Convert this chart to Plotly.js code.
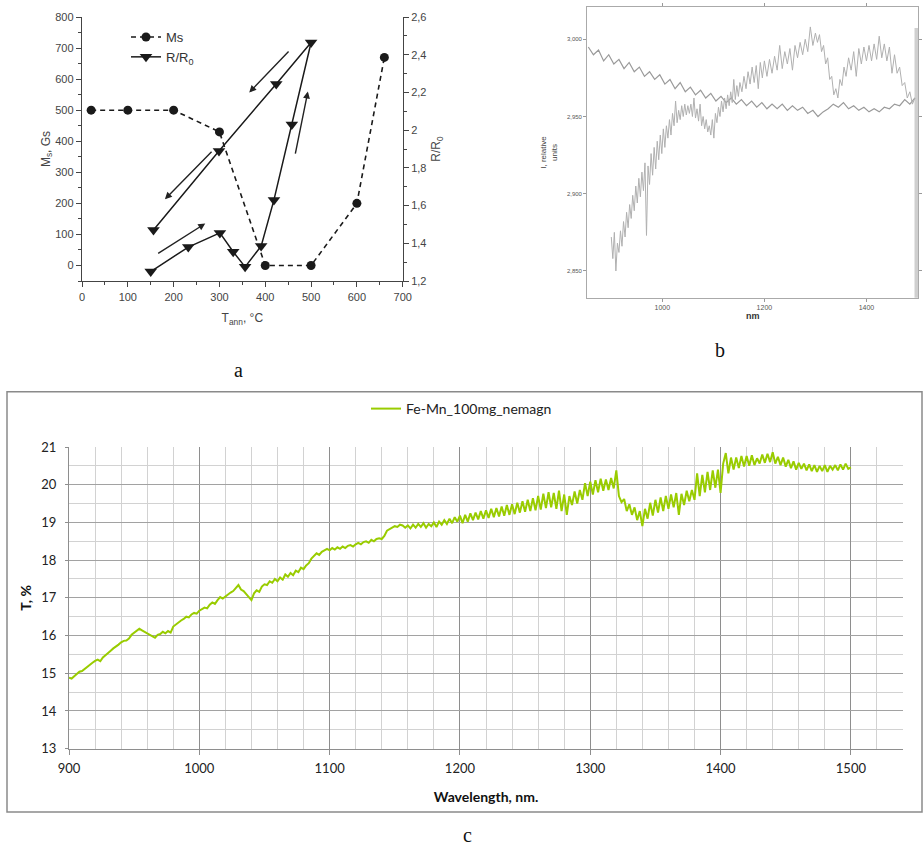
<!DOCTYPE html>
<html>
<head>
<meta charset="utf-8">
<script src="https://cdn.plot.ly/plotly-3.0.1.min.js"></script>
<style>
html,body{margin:0;padding:0;background:#fff;}
#chart{width:923px;height:861px;}
</style>
</head>
<body>
<div id="chart"></div>
<script>
// ---------- Panel a : Ms and R/R0 vs annealing temperature ----------
const msT   = [20, 100, 200, 300, 400, 500, 600, 660];
const msVal = [500, 500, 500, 430, 0, 0, 200, 670];

const rT    = [150, 232, 301, 330, 356, 391, 419, 458, 500, 424, 299, 156];
const rVal  = [1.25, 1.38, 1.455, 1.355, 1.275, 1.385, 1.63, 2.03, 2.465, 2.245, 1.89, 1.47];

// ---------- Panel b : relative intensity spectra ----------
const bX1 = [855,865,875,885,895,905,915,925,935,945,955,965,975,985,995,1005,1015,1025,1035,1045,1055,1065,1075,1085,1095,1105,1115,1125,1135,1145,1155,1165,1175,1185,1195,1205,1215,1225,1235,1245,1255,1265,1275,1285,1295,1305,1315,1325,1335,1345,1355,1365,1375,1385,1395,1405,1415,1425,1435,1445,1455,1465,1475,1485,1495];
const bY1 = [2.995,2.990,2.993,2.986,2.990,2.984,2.987,2.981,2.985,2.979,2.982,2.976,2.979,2.974,2.977,2.971,2.974,2.968,2.972,2.966,2.969,2.964,2.967,2.962,2.965,2.960,2.963,2.959,2.962,2.958,2.961,2.957,2.960,2.956,2.959,2.955,2.958,2.955,2.958,2.954,2.957,2.954,2.956,2.952,2.954,2.950,2.953,2.955,2.958,2.956,2.959,2.955,2.957,2.954,2.956,2.953,2.955,2.953,2.956,2.955,2.958,2.957,2.961,2.958,2.962];

const bX2 = [900,903,906,909,912,915,918,921,924,927,930,933,936,939,942,945,948,951,954,957,960,963,966,969,972,975,978,981,984,987,990,993,996,999,1002,1005,1008,1011,1014,1017,1020,1023,1026,1029,1032,1035,1038,1041,1044,1047,1050,1053,1056,1059,1062,1065,1068,1071,1074,1077,1080,1083,1086,1089,1092,1095,1098,1101,1104,1107,1110,1113,1116,1119,1122,1125,1128,1131,1134,1137,1140,1143,1146,1149,1152,1156,1160,1164,1168,1172,1176,1180,1184,1188,1192,1196,1200,1205,1210,1215,1220,1225,1230,1235,1240,1245,1250,1255,1260,1265,1270,1275,1280,1285,1290,1295,1300,1304,1308,1312,1316,1320,1324,1328,1332,1336,1340,1344,1348,1352,1356,1360,1365,1370,1375,1380,1385,1390,1395,1400,1405,1410,1415,1420,1425,1430,1435,1440,1445,1450,1455,1460,1465,1470,1475,1480,1485,1490,1495];
const bY2 = [2.872,2.858,2.875,2.850,2.868,2.862,2.876,2.866,2.882,2.872,2.888,2.878,2.893,2.884,2.899,2.889,2.905,2.894,2.910,2.898,2.914,2.902,2.920,2.873,2.918,2.906,2.926,2.912,2.930,2.916,2.934,2.922,2.938,2.926,2.942,2.930,2.944,2.936,2.948,2.938,2.952,2.944,2.960,2.946,2.954,2.948,2.957,2.950,2.958,2.951,2.957,2.952,2.958,2.950,2.962,2.949,2.955,2.947,2.958,2.944,2.950,2.942,2.948,2.940,2.944,2.938,2.948,2.936,2.952,2.946,2.956,2.950,2.960,2.953,2.962,2.955,2.964,2.957,2.966,2.959,2.974,2.961,2.970,2.963,2.972,2.966,2.976,2.968,2.979,2.971,2.982,2.972,2.983,2.968,2.985,2.975,2.986,2.976,2.987,2.978,2.989,2.980,2.996,2.981,2.992,2.984,2.994,2.980,2.996,2.988,2.998,2.990,3.000,2.992,3.008,2.996,3.004,2.998,3.003,2.992,2.996,2.984,2.988,2.974,2.976,2.964,2.968,2.962,2.974,2.970,2.982,2.976,2.988,2.980,2.992,2.976,2.994,2.984,2.995,2.986,2.996,2.986,2.997,2.987,3.002,2.988,2.997,2.986,2.995,2.978,2.990,2.978,2.982,2.970,2.972,2.962,2.966,2.958,2.962];
const bXTicks = [1000, 1200, 1400];
const bYTicks = [2.85, 2.90, 2.95, 3.00];
const bYTickText = ['2,850', '2,900', '2,950', '3,000'];

// ---------- Panel c : transmission spectrum (wavelength 900..1500 nm, every 2 nm) ----------
const cStart = 900;
const cStep = 2;
const cT = [
14.88,14.86,14.92,14.98,15.04, 15.06,15.12,15.18,15.22,15.28, 15.33,15.36,15.32,15.42,15.48, 15.55,15.60,15.66,15.70,15.76,
15.82,15.86,15.87,15.92,16.02, 16.08,16.14,16.18,16.14,16.10, 16.06,16.04,15.98,15.94,16.02, 16.04,16.10,16.06,16.12,16.08,
16.24,16.30,16.34,16.40,16.44, 16.50,16.48,16.56,16.60,16.58, 16.66,16.70,16.74,16.72,16.82, 16.88,16.84,16.94,17.02,16.98,
17.04,17.08,17.14,17.18,17.26, 17.34,17.22,17.18,17.10,17.02, 16.94,17.12,17.20,17.16,17.30, 17.36,17.34,17.44,17.40,17.50,
17.44,17.54,17.48,17.62,17.56, 17.66,17.60,17.72,17.68,17.80, 17.76,17.86,17.92,18.04,18.12, 18.18,18.14,18.22,18.26,18.30,
18.26,18.32,18.28,18.34,18.30, 18.36,18.32,18.38,18.40,18.36, 18.42,18.46,18.42,18.48,18.50, 18.46,18.54,18.50,18.56,18.58,
18.56,18.64,18.78,18.82,18.86, 18.90,18.88,18.94,18.92,18.86, 18.92,18.84,18.94,18.86,18.96, 18.88,18.98,18.86,18.96,18.90,
19.00,18.88,19.02,18.94,19.06, 18.96,19.10,18.98,19.14,19.02, 19.18,18.98,19.20,19.02,19.24, 19.06,19.26,19.08,19.30,19.10,
19.32,19.12,19.36,19.14,19.38, 19.16,19.42,19.18,19.46,19.20, 19.48,19.22,19.52,19.26,19.56, 19.28,19.60,19.30,19.64,19.32,
19.70,19.34,19.76,19.38,19.80, 19.40,19.78,19.36,19.84,19.30, 19.74,19.20,19.70,19.46,19.82, 19.50,19.86,19.60,20.04,19.70,
20.08,19.74,20.12,19.80,20.16, 19.84,20.14,19.86,20.18,19.90, 20.38,19.70,19.54,19.62,19.30, 19.48,19.20,19.40,19.06,19.30,
18.90,19.36,19.10,19.52,19.18, 19.60,19.26,19.66,19.30,19.70, 19.36,19.74,19.40,19.78,19.20, 19.76,19.46,19.84,19.56,19.86,
19.60,20.30,19.70,20.26,19.80, 20.34,19.86,20.38,19.92,20.40, 19.78,20.56,20.84,20.30,20.72, 20.40,20.72,20.44,20.76,20.48,
20.76,20.50,20.78,20.52,20.70, 20.56,20.80,20.58,20.82,20.60, 20.86,20.56,20.74,20.52,20.72, 20.48,20.66,20.44,20.62,20.40,
20.58,20.42,20.56,20.38,20.54, 20.36,20.52,20.34,20.50,20.36, 20.52,20.34,20.50,20.40,20.52, 20.38,20.54,20.40,20.56,20.42,
20.46];

const W = 923, H = 861;
const px = v => v / W;
const py = v => 1 - v / H;

const fA = 'Liberation Sans, Arial, sans-serif';
const fC = 'Lato, Open Sans, sans-serif';

const traces = [
  { x: msT, y: msVal, xaxis: 'x', yaxis: 'y', name: 'Ms', mode: 'lines+markers',
    line: { color: '#1a1a1a', width: 1.6, dash: '5px,4px' },
    marker: { symbol: 'circle', size: 9, color: '#1a1a1a' }, legend: 'legend' },
  { x: rT, y: rVal, xaxis: 'x', yaxis: 'y2', name: 'R/R<sub>0</sub>', mode: 'lines+markers',
    line: { color: '#1a1a1a', width: 1.5 },
    marker: { symbol: 'triangle-down', size: 11, color: '#1a1a1a' }, legend: 'legend' },
  { x: bX1, y: bY1, xaxis: 'x2', yaxis: 'y3', mode: 'lines', showlegend: false,
    line: { color: '#9a9a9a', width: 1.2 } },
  { x: bX2, y: bY2, xaxis: 'x2', yaxis: 'y3', mode: 'lines', showlegend: false,
    line: { color: '#b0b0b0', width: 1 } },
  { y: cT, x0: cStart, dx: cStep, xaxis: 'x3', yaxis: 'y4', mode: 'lines', name: 'Fe-Mn_100mg_nemagn',
    line: { color: '#99cc00', width: 2 }, legend: 'legend2' }
];

const axA = {
  showline: true, linecolor: '#444', linewidth: 1.3, ticks: 'outside', ticklen: 5, tickcolor: '#444',
  showgrid: false, zeroline: false, tickfont: { family: fA, size: 11, color: '#444' }
};

// arrows along the R/R0 path (tail -> head), in data coords of panel a
const arrows = [
  { tx: 454, ty: 694, hx: 365, hy: 557 },
  { tx: 286, ty: 371, hx: 181, hy: 213 },
  { tx: 163, ty: 36,  hx: 269, hy: 135 },
  { tx: 465, ty: 355, hx: 493, hy: 560 }
];

const annotations = arrows.map(a => ({
  xref: 'x', yref: 'y', axref: 'x', ayref: 'y', x: a.hx, y: a.hy, ax: a.tx, ay: a.ty,
  showarrow: true, arrowhead: 2, arrowsize: 1, arrowwidth: 1.4, arrowcolor: '#222', text: ''
}));
annotations.push(
  { xref: 'paper', yref: 'paper', x: px(232), y: py(370), text: 'a', showarrow: false,
    font: { family: 'Liberation Serif, Times New Roman, serif', size: 20, color: '#111' } },
  { xref: 'paper', yref: 'paper', x: px(727), y: py(350), text: 'b', showarrow: false,
    font: { family: 'Liberation Serif, Times New Roman, serif', size: 20, color: '#111' } },
  { xref: 'paper', yref: 'paper', x: px(467), y: py(848), text: 'c', showarrow: false,
    font: { family: 'Liberation Serif, Times New Roman, serif', size: 20, color: '#111' } }
);

const layout = {
  width: W, height: H,
  margin: { l: 0, r: 0, t: 0, b: 0 },
  paper_bgcolor: '#fff', plot_bgcolor: 'rgba(0,0,0,0)',
  separators: ',.',
  showlegend: true,
  legend: {
    x: px(126), y: py(22), xanchor: 'left', yanchor: 'top', orientation: 'v',
    bgcolor: 'rgba(0,0,0,0)', font: { family: fA, size: 13, color: '#333' }, tracegroupgap: 0
  },
  legend2: {
    x: 0.5, y: py(409), xanchor: 'center', yanchor: 'middle', orientation: 'h',
    bgcolor: 'rgba(0,0,0,0)', font: { family: fC, size: 14, color: '#222' }
  },
  // panel a
  xaxis: Object.assign({}, axA, {
    domain: [px(82), px(402.7)], anchor: 'y', range: [0, 700], dtick: 100,
    minor: { ticks: 'outside', ticklen: 3, dtick: 50, tickcolor: '#444' },
    title: { text: 'T<sub>ann</sub>, °C', font: { family: fA, size: 12, color: '#444' }, standoff: 12 }
  }),
  yaxis: Object.assign({}, axA, {
    domain: [py(281), py(17)], anchor: 'x', range: [-50, 800], dtick: 100,
    minor: { ticks: 'outside', ticklen: 3, dtick: 50, tickcolor: '#444' },
    title: { text: 'M<sub>s</sub>, Gs', font: { family: fA, size: 12, color: '#444' }, standoff: 2 }
  }),
  yaxis2: Object.assign({}, axA, {
    overlaying: 'y', side: 'right', anchor: 'x', range: [1.2, 2.6], tick0: 1.2, dtick: 0.2,
    minor: { ticks: 'outside', ticklen: 3, dtick: 0.1, tickcolor: '#444' },
    title: { text: 'R/R<sub>0</sub>', font: { family: fA, size: 12, color: '#444' }, standoff: 6 }
  }),
  // panel b
  xaxis2: {
    domain: [px(587.3), px(918)], anchor: 'y3', range: [853, 1501],
    tickmode: 'array', tickvals: bXTicks, ticks: 'outside', ticklen: 3, tickcolor: '#999',
    showline: true, linecolor: '#aaa', linewidth: 1.2, mirror: 'allticks', showgrid: false, zeroline: false,
    tickfont: { family: fA, size: 7, color: '#555' },
    title: { text: '<b>nm</b>', font: { family: fA, size: 9, color: '#333' }, standoff: 2 }
  },
  yaxis3: {
    domain: [py(297.7), py(7.3)], anchor: 'x2', range: [2.8327, 3.0207],
    tickmode: 'array', tickvals: bYTicks, ticktext: bYTickText, ticks: 'outside', ticklen: 3, tickcolor: '#999',
    showline: true, linecolor: '#aaa', linewidth: 1.2, mirror: 'allticks', showgrid: false, zeroline: false,
    tickfont: { family: fA, size: 6, color: '#555' },
    title: { text: 'I, relative<br>units', font: { family: fA, size: 8, color: '#444' }, standoff: 8 }
  },
  // panel c
  xaxis3: {
    domain: [px(69), px(903)], anchor: 'y4', range: [900, 1540], dtick: 100,
    showgrid: true, gridcolor: '#8e8e8e', gridwidth: 1,
    minor: { dtick: 20, showgrid: true, gridcolor: '#d2d2d2', gridwidth: 1 },
    showline: true, linecolor: '#8e8e8e', linewidth: 1, ticks: 'outside', ticklen: 5, tickcolor: '#8e8e8e',
    zeroline: false, tickfont: { family: fC, size: 13, color: '#222' }, ticklabelstandoff: 3,
    title: { text: '<b>Wavelength, nm.</b>', font: { family: fC, size: 14, color: '#111' }, standoff: 16 }
  },
  yaxis4: {
    domain: [py(748.7), py(447)], anchor: 'x3', range: [13, 21], dtick: 1,
    showgrid: true, gridcolor: '#a2a2a2', gridwidth: 1,
    minor: { dtick: 0.5, showgrid: true, gridcolor: '#d2d2d2', gridwidth: 1 },
    showline: true, linecolor: '#8e8e8e', linewidth: 1, ticks: 'outside', ticklen: 3, tickcolor: '#8e8e8e',
    zeroline: false, tickfont: { family: fC, size: 13, color: '#222' }, ticklabelstandoff: 6,
    title: { text: '<b>T, %</b>', font: { family: fC, size: 14, color: '#111' }, standoff: 6 }
  },
  shapes: [
    { type: 'rect', xref: 'paper', yref: 'paper', x0: px(7), x1: px(922), y0: py(812), y1: py(391.7),
      line: { color: '#8a8a8a', width: 1.5 }, fillcolor: 'rgba(0,0,0,0)', layer: 'below' },
    { type: 'rect', xref: 'paper', yref: 'paper', x0: px(914.5), x1: px(918.5), y0: py(297.7), y1: py(28),
      line: { width: 0 }, fillcolor: '#cfcfcf', layer: 'below' }
  ],
  annotations: annotations
};

Plotly.newPlot('chart', traces, layout, { displayModeBar: false, staticPlot: true });
</script>
</body>
</html>
